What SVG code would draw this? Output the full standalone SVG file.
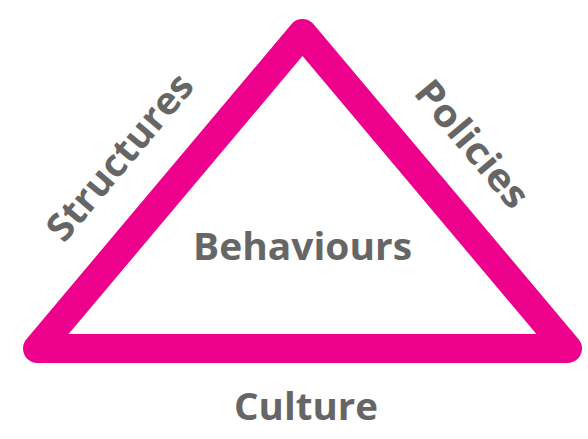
<svg xmlns="http://www.w3.org/2000/svg" width="588" height="439" viewBox="0 0 588 439">
<style>
.lbl{font-family:"Open Sans","Noto Sans","Liberation Sans",sans-serif;font-weight:700;fill:#666666;text-anchor:middle;}
.edge{fill:none;stroke:#EC008C;stroke-width:29;stroke-linejoin:round;}
</style>
<rect width="588" height="439" fill="#ffffff"/>
<g id="connectors">
<polygon class="edge" points="302.5,33.5 567.5,348.5 37.5,348.5"/>
</g>
<g id="structures"><text class="lbl" font-size="38" transform="translate(120,157) rotate(-50)" x="0" y="13" textLength="205" lengthAdjust="spacingAndGlyphs">Structures</text></g>
<g id="policies"><text class="lbl" font-size="38" transform="translate(472,144) rotate(50)" x="0" y="13" textLength="154" lengthAdjust="spacingAndGlyphs">Policies</text></g>
<g id="behaviours"><text class="lbl" font-size="37" x="302.5" y="260" textLength="219" lengthAdjust="spacingAndGlyphs">Behaviours</text></g>
<g id="culture"><text class="lbl" font-size="37" x="306" y="420" textLength="144" lengthAdjust="spacingAndGlyphs">Culture</text></g>
</svg>
